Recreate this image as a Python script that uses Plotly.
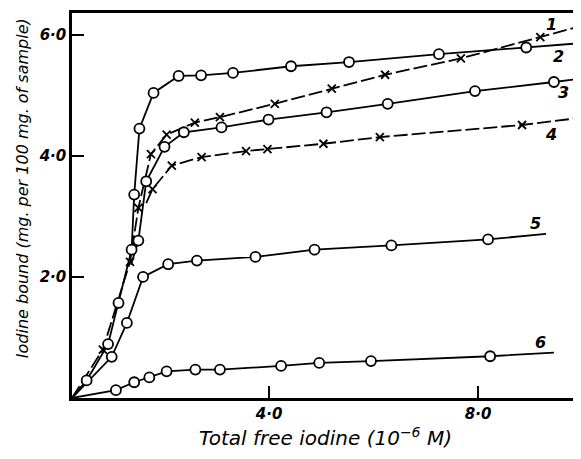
import plotly.graph_objects as go

# ---- data ----
# curve labelled "1": crosses, dashed
c1_x = [0.82, 1.34, 1.50, 1.74, 2.04, 2.58, 3.06, 4.11, 5.20, 6.22, 7.67, 9.19]
c1_y = [0.80, 2.25, 3.14, 4.03, 4.35, 4.55, 4.64, 4.86, 5.11, 5.34, 5.61, 5.96]
c1_start = (0.23, 0.0)
c1_end = (9.82, 6.11)

# curve labelled "2": circles, solid (top plateau)
c2_x = [0.51, 0.92, 1.12, 1.37, 1.42, 1.52, 1.79, 2.27, 2.70, 3.31, 4.42, 5.53, 7.25, 8.92]
c2_y = [0.29, 0.89, 1.57, 2.45, 3.36, 4.45, 5.04, 5.32, 5.33, 5.37, 5.48, 5.55, 5.68, 5.79]
c2_start = (0.23, 0.0)
c2_end = (9.93, 5.86)

# curve labelled "3": circles, solid
c3_x = [1.50, 1.65, 2.00, 2.37, 3.09, 3.99, 5.10, 6.27, 7.94, 9.45]
c3_y = [2.60, 3.58, 4.15, 4.39, 4.47, 4.60, 4.72, 4.86, 5.07, 5.22]
c3_start = (1.36, 2.20)
c3_end = (9.93, 5.27)

# curve labelled "4": crosses, dashed
c4_x = [1.77, 2.14, 2.71, 3.56, 3.97, 5.04, 6.12, 8.84]
c4_y = [3.45, 3.84, 3.98, 4.08, 4.11, 4.20, 4.31, 4.51]
c4_start = (1.65, 3.22)
c4_end = (9.88, 4.62)

# curve labelled "5": circles, solid
c5_x = [0.99, 1.28, 1.59, 2.07, 2.62, 3.74, 4.87, 6.34, 8.19]
c5_y = [0.68, 1.24, 2.00, 2.21, 2.27, 2.33, 2.45, 2.52, 2.62]
c5_start = (0.23, 0.0)
c5_end = (9.30, 2.71)

# curve labelled "6": circles, solid
c6_x = [1.07, 1.42, 1.71, 2.04, 2.59, 3.06, 4.23, 4.96, 5.95, 8.23]
c6_y = [0.13, 0.26, 0.34, 0.44, 0.47, 0.47, 0.53, 0.58, 0.61, 0.69]
c6_start = (0.23, 0.0)
c6_end = (9.45, 0.75)

curve_labels = ["1", "2", "3", "4", "5", "6"]
label_x = [9.40, 9.53, 9.63, 9.40, 9.09, 9.20]
label_y = [6.17, 5.64, 5.04, 4.36, 2.89, 0.91]

x_tickvals = [4, 8]
x_ticktext = ["4·0", "8·0"]
y_tickvals = [2, 4, 6]
y_ticktext = ["2·0", "4·0", "6·0"]

x_title = "Total free iodine (10<sup>−6</sup> M)"
y_title = "Iodine bound (mg. per 100 mg. of sample)"

# ---- figure ----
curves = [
    (c1_x, c1_y, c1_start, c1_end, "cross"),
    (c2_x, c2_y, c2_start, c2_end, "circle"),
    (c3_x, c3_y, c3_start, c3_end, "circle"),
    (c4_x, c4_y, c4_start, c4_end, "cross"),
    (c5_x, c5_y, c5_start, c5_end, "circle"),
    (c6_x, c6_y, c6_start, c6_end, "circle"),
]

fig = go.Figure()

for xs, ys, st, en, kind in curves:
    lx = [st[0]] + xs + [en[0]]
    ly = [st[1]] + ys + [en[1]]
    fig.add_trace(go.Scatter(
        x=lx, y=ly, mode="lines",
        line=dict(color="black", width=1.8,
                  dash=("14px,4px" if kind == "cross" else "solid")),
        showlegend=False, hoverinfo="skip"))

for xs, ys, st, en, kind in curves:
    if kind == "circle":
        marker = dict(symbol="circle", size=10, color="white",
                      line=dict(color="black", width=1.8))
    else:
        marker = dict(symbol="x-thin", size=8, color="black",
                      line=dict(color="black", width=1.8))
    fig.add_trace(go.Scatter(x=xs, y=ys, mode="markers", marker=marker,
                             showlegend=False, hoverinfo="skip"))

label_font = dict(family="DejaVu Sans", size=16, color="black",
                  style="italic", weight="bold")
for t, lx, ly in zip(curve_labels, label_x, label_y):
    fig.add_annotation(x=lx, y=ly, text=t, showarrow=False,
                       font=label_font, xref="x", yref="y")

tick_font = dict(family="DejaVu Sans", size=15, color="black",
                 style="italic", weight="bold")
title_font = dict(family="DejaVu Sans", size=20, color="black",
                  style="italic")
ytitle_font = dict(family="DejaVu Sans", size=16, color="black",
                   style="italic")

fig.add_annotation(x=-0.0986, y=0.545, xref="paper", yref="paper",
                   text=y_title, textangle=-90, showarrow=False,
                   xanchor="center", yanchor="middle", font=ytitle_font)

fig.update_layout(
    width=573, height=451, autosize=False,
    margin=dict(l=64, r=2, t=5, b=61),
    paper_bgcolor="white", plot_bgcolor="white",
    xaxis=dict(
        range=[0.23, 9.93], showgrid=False, zeroline=False, automargin=False,
        showline=True, linecolor="black", linewidth=2.5, mirror=True,
        ticks="inside", ticklen=12, tickwidth=2, tickcolor="black",
        tickvals=x_tickvals, ticktext=x_ticktext, tickfont=tick_font,
        title=dict(text=x_title, font=title_font, standoff=10),
    ),
    yaxis=dict(
        range=[0, 6.36], showgrid=False, zeroline=False, automargin=False,
        showline=True, linecolor="black", linewidth=2.5, mirror=False,
        ticks="inside", ticklen=12, tickwidth=2, tickcolor="black",
        tickvals=y_tickvals, ticktext=y_ticktext, tickfont=tick_font,
    ),
)

fig.write_html("out.html")
